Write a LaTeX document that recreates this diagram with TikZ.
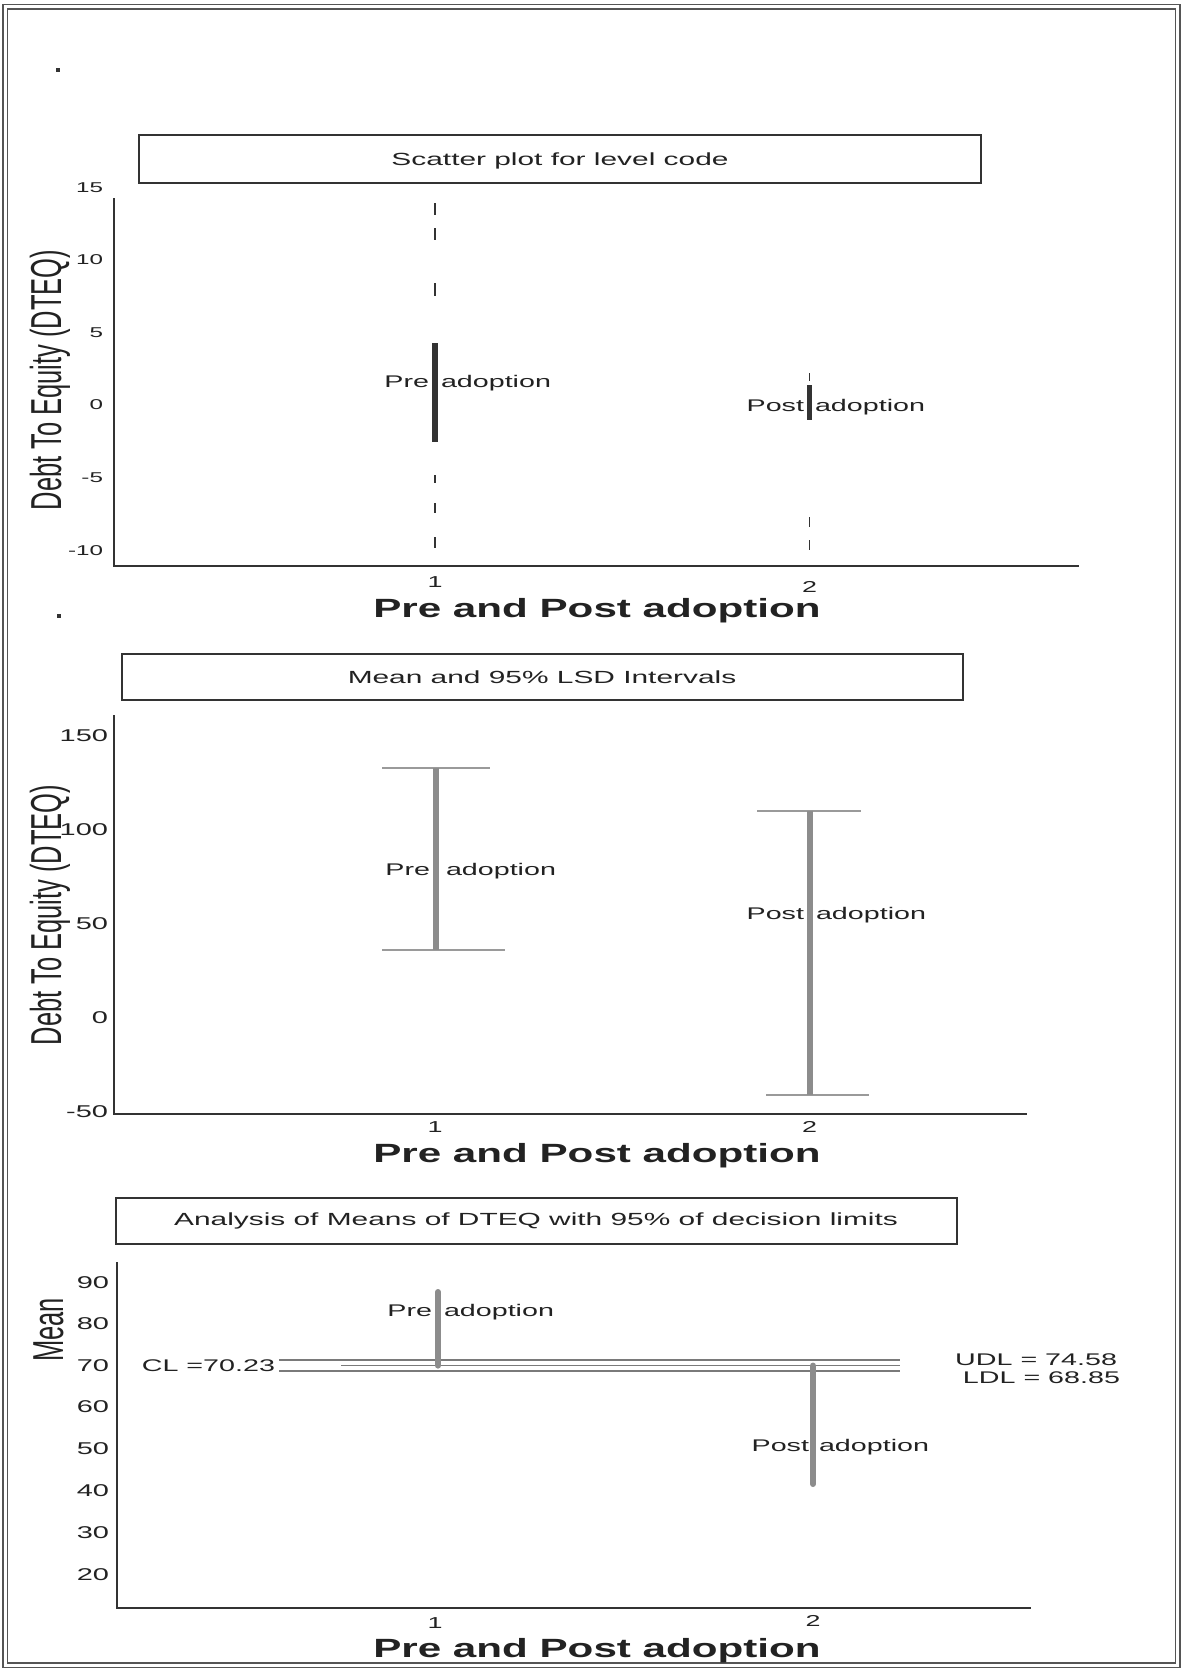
\documentclass[tikz,border=0pt]{standalone}
\usepackage{fontspec}
\setmainfont{Liberation Sans}
\usepackage{graphicx}
\definecolor{ink}{HTML}{222222}
\definecolor{axisc}{HTML}{333333}
\definecolor{framec}{HTML}{555555}
\definecolor{barg}{HTML}{8C8C8C}
\definecolor{capg}{HTML}{9A9A9A}
\definecolor{limc}{HTML}{7A7A7A}
\newcommand\hs[1]{\scalebox{1.7}[1]{#1}}
\newcommand\hsb[1]{\scalebox{1.6}[1]{#1}}
\newcommand\vs[1]{\scalebox{1}[1.7]{#1}}
\begin{document}
\begin{tikzpicture}[x=0.02cm,y=-0.02cm,
  frameline/.style={draw=framec, line width=0.03cm},
  axisline/.style={draw=axisc, line width=0.05cm},
  titlebox/.style={draw=axisc, line width=0.03cm},
  txt/.style={inner sep=0pt, outer sep=0pt, text=ink},
  ticklab/.style={txt, font=\fontsize{8.1}{9}\selectfont, anchor=east},
  tickbig/.style={txt, font=\fontsize{9.7}{11}\selectfont, anchor=east},
  ttl/.style={txt, font=\fontsize{10}{12}\selectfont, anchor=base},
  barlab/.style={txt, font=\fontsize{9.6}{11}\selectfont},
  ylab/.style={txt, font=\fontsize{14.5}{16}\selectfont, rotate=90, anchor=base},
  xlab/.style={txt, font=\fontsize{15}{17}\selectfont\bfseries, anchor=base},
  xtick/.style={txt, font=\fontsize{9}{10}\selectfont},
  darkbar/.style={draw=axisc, line width=0.11cm},
  dashseg/.style={draw=axisc, line width=0.03cm},
  graybar/.style={draw=barg, line width=0.12cm},
  capline/.style={draw=capg, line width=0.045cm},
  limline/.style={draw=limc, line width=0.035cm},
  dotmark/.style={fill=axisc, inner sep=0pt, minimum size=0.08cm}
]
\useasboundingbox[fill=white] (0,0) rectangle (1192,1670);

% double frame
\draw[frameline] (3,4.5) rectangle (1180,1667.5);
\draw[frameline] (7.5,9) rectangle (1175.5,1663);

% stray dots
\node[dotmark] (dotA) at (58,70) {};
\node[dotmark] (dotB) at (59,616) {};

%%%%%%%%%%%%%%%% Panel 1 : scatter plot %%%%%%%%%%%%%%%%
\draw[titlebox] (139,135) rectangle (981,183);
\node[ttl] (t1) at (560,165) {\hs{Scatter plot for level code}};
\draw[axisline] (114,198) -- (114,566) -- (1079,566);
\foreach \v/\y/\n in {15/188/a,10/260/b,5/333/c,0/405/d,-5/478/e,-10/551/f}
  \node[ticklab] (p1y\n) at (103,\y) {\hs{\v}};
\node[ylab] (p1yl) at (61,380) {\vs{Debt To Equity (DTEQ)}};
\node[xtick] (p1x1) at (435,582) {\hs{1}};
\node[xtick] (p1x2) at (809.5,587) {\hs{2}};
\node[xlab] (p1xl) at (597,617) {\hsb{Pre and Post adoption}};
% pre
\draw[darkbar] (435,343) -- (435,442);
\foreach \a/\b in {203/215,228/240,283/296,475/483,503/513,537/548}
  \draw[dashseg] (435,\a) -- (435,\b);
\node[barlab, anchor=base east] (p1pre) at (429,387) {\hs{Pre}};
\node[barlab, anchor=base west] (p1prea) at (441,387) {\hs{adoption}};
% post
\draw[darkbar] (809.5,385) -- (809.5,420);
\foreach \a/\b in {373/381,517/527,540/550}
  \draw[dashseg] (809.5,\a) -- (809.5,\b);
\node[barlab, anchor=base east] (p1post) at (804,411) {\hs{Post}};
\node[barlab, anchor=base west] (p1posta) at (815,411) {\hs{adoption}};

%%%%%%%%%%%%%%%% Panel 2 : LSD intervals %%%%%%%%%%%%%%%%
\draw[titlebox] (122,654) rectangle (963,700);
\node[ttl] (t2) at (542,683) {\hs{Mean and 95\% LSD Intervals}};
\draw[axisline] (114,715) -- (114,1114) -- (1027,1114);
\foreach \v/\y/\n in {150/736/a,100/830/b,50/924/c,0/1018/d,-50/1112/e}
  \node[tickbig] (p2y\n) at (108,\y) {\hs{\v}};
\node[ylab] (p2yl) at (61,915) {\vs{Debt To Equity (DTEQ)}};
\node[xtick] (p2x1) at (435,1127) {\hs{1}};
\node[xtick] (p2x2) at (809.5,1127) {\hs{2}};
\node[xlab] (p2xl) at (597,1162) {\hsb{Pre and Post adoption}};
% pre
\draw[capline] (382,768) -- (490,768);
\draw[capline] (382,950) -- (505,950);
\draw[graybar] (435.5,768) -- (435.5,950);
\node[barlab, anchor=base east] (p2pre) at (430,875) {\hs{Pre}};
\node[barlab, anchor=base west] (p2prea) at (446,875) {\hs{adoption}};
% post
\draw[capline] (757,811) -- (861,811);
\draw[capline] (766,1095) -- (869,1095);
\draw[graybar] (809.5,811) -- (809.5,1095);
\node[barlab, anchor=base east] (p2post) at (804,919) {\hs{Post}};
\node[barlab, anchor=base west] (p2posta) at (816,919) {\hs{adoption}};

%%%%%%%%%%%%%%%% Panel 3 : ANOM %%%%%%%%%%%%%%%%
\draw[titlebox] (116,1198) rectangle (957,1244);
\node[ttl] (t3) at (536,1225.5) {\hs{Analysis of Means of DTEQ with 95\% of decision limits}};
\draw[axisline] (117,1262) -- (117,1608) -- (1031,1608);
\foreach \v/\y/\n in {90/1282.4/a,80/1323.8/b,70/1365.6/c,60/1407/d,50/1448.9/e,40/1490.7/f,30/1532.5/g,20/1574.6/h}
  \node[tickbig] (p3y\n) at (109,\y) {\hs{\v}};
\node[ylab] (p3yl) at (63,1330) {\vs{Mean}};
\node[xtick] (p3x1) at (435,1623) {\hs{1}};
\node[xtick] (p3x2) at (813,1621) {\hs{2}};
\node[xlab] (p3xl) at (597,1657) {\hsb{Pre and Post adoption}};
% decision limits
\draw[limline] (279,1360) -- (900,1360);
\draw[limline] (341,1365.6) -- (900,1365.6);
\draw[limline] (279,1371) -- (900,1371);
\node[barlab, anchor=base east] (cl) at (275,1371.6) {\hs{CL =70.23}};
\node[barlab, anchor=base east] (udl) at (1117,1365) {\hs{UDL = 74.58}};
\node[barlab, anchor=base east] (ldl) at (1120,1383) {\hs{LDL = 68.85}};
% bars
\draw[graybar, line cap=round] (438,1292) -- (438,1365.6);
\node[barlab, anchor=base east] (p3pre) at (432,1316) {\hs{Pre}};
\node[barlab, anchor=base west] (p3prea) at (444,1316) {\hs{adoption}};
\draw[graybar, line cap=round] (813,1365.6) -- (813,1484);
\node[barlab, anchor=base east] (p3post) at (809,1451) {\hs{Post}};
\node[barlab, anchor=base west] (p3posta) at (819,1451) {\hs{adoption}};
\end{tikzpicture}
\end{document}
